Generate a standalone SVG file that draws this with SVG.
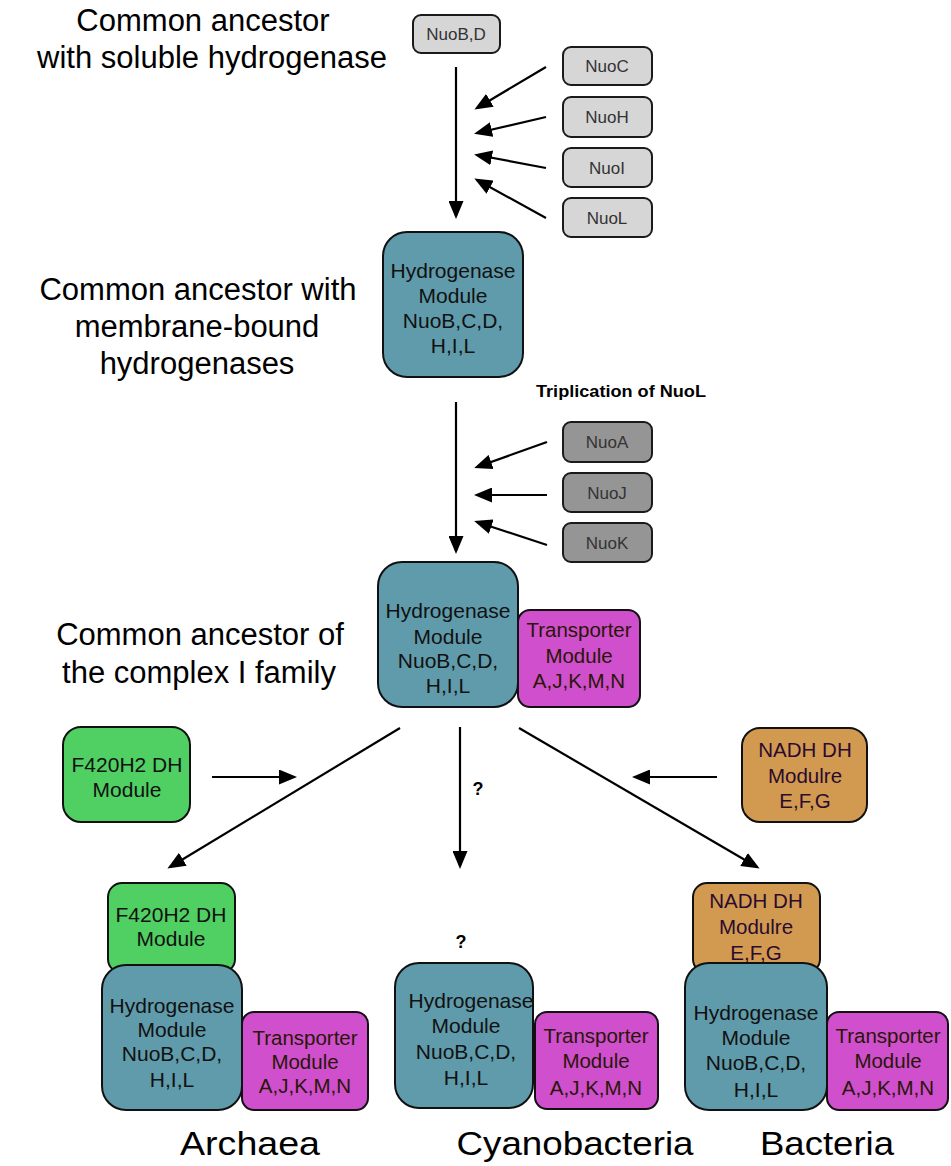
<svg xmlns="http://www.w3.org/2000/svg" width="951" height="1166" viewBox="0 0 951 1166">
<defs>
<marker id="ah" markerUnits="userSpaceOnUse" markerWidth="18" markerHeight="15" refX="15" refY="7.5" orient="auto">
<path d="M0,0 L18,7.5 L0,15 z" fill="#000"/>
</marker>
</defs>
<style>
text{font-family:"Liberation Sans",Arial,sans-serif;text-anchor:middle}
.title{font-size:31px;fill:#000}
.label{font-size:34px;fill:#000}
.small{font-size:17px;fill:#333}
.bt{font-size:21px;fill:#111}
.tt{font-size:20.5px;fill:#2a1608}
.nt{font-size:20.5px;fill:#2b0b2e}
.lg{fill:#d6d6d6;stroke:#1a1a1a;stroke-width:2}
.dg{fill:#959595;stroke:#1a1a1a;stroke-width:2}
.hy{fill:#5f9bab;stroke:#111;stroke-width:2}
.tr{fill:#cf4fcc;stroke:#111;stroke-width:2}
.f4{fill:#50cf63;stroke:#111;stroke-width:2}
.na{fill:#d19a50;stroke:#111;stroke-width:2}
.arr{stroke:#000;stroke-width:2.2;fill:none;marker-end:url(#ah)}
</style>

<g id="titles">
<text class="title" x="203" y="31">Common ancestor</text>
<text class="title" x="212" y="68">with soluble hydrogenase</text>
<text class="title" x="198" y="300">Common ancestor with</text>
<text class="title" x="197" y="337">membrane-bound</text>
<text class="title" x="197" y="374">hydrogenases</text>
<text class="title" x="200" y="645">Common ancestor of</text>
<text class="title" x="199" y="683">the complex I family</text>
<text x="621" y="397" style="font-size:16px;font-weight:bold" textLength="170" lengthAdjust="spacingAndGlyphs">Triplication of NuoL</text>
<text x="478" y="795" style="font-size:18px;font-weight:bold">?</text>
<text x="461" y="948" style="font-size:18px;font-weight:bold">?</text>
<text class="label" x="250" y="1155" textLength="140" lengthAdjust="spacingAndGlyphs">Archaea</text>
<text class="label" x="575" y="1155" textLength="237" lengthAdjust="spacingAndGlyphs">Cyanobacteria</text>
<text class="label" x="827" y="1155" textLength="134" lengthAdjust="spacingAndGlyphs">Bacteria</text>
</g>

<g id="connectors">
<line class="arr" x1="456" y1="67" x2="456" y2="216"/>
<line class="arr" x1="546" y1="67" x2="477" y2="108"/>
<line class="arr" x1="546" y1="117" x2="477" y2="133"/>
<line class="arr" x1="546" y1="168" x2="477" y2="155"/>
<line class="arr" x1="546" y1="218" x2="477" y2="180"/>
<line class="arr" x1="456" y1="402" x2="456" y2="551"/>
<line class="arr" x1="547" y1="442" x2="477" y2="467"/>
<line class="arr" x1="547" y1="495" x2="477" y2="495"/>
<line class="arr" x1="547" y1="545" x2="477" y2="522"/>
<line class="arr" x1="400" y1="728" x2="170" y2="867"/>
<line class="arr" x1="460" y1="727" x2="460" y2="866"/>
<line class="arr" x1="519" y1="728" x2="757" y2="867"/>
<line class="arr" x1="212" y1="777" x2="294" y2="777"/>
<line class="arr" x1="717" y1="777" x2="635" y2="777"/>
</g>

<g id="nuoBD"><rect class="lg" x="413" y="15" width="87" height="38" rx="8"/><text class="small" x="456" y="40">NuoB,D</text></g>
<g id="nuoC"><rect class="lg" x="563" y="47" width="89" height="38" rx="8"/><text class="small" x="607" y="72">NuoC</text></g>
<g id="nuoH"><rect class="lg" x="563" y="97" width="89" height="40" rx="8"/><text class="small" x="607" y="123">NuoH</text></g>
<g id="nuoI"><rect class="lg" x="563" y="148" width="89" height="39" rx="8"/><text class="small" x="607" y="174">NuoI</text></g>
<g id="nuoL"><rect class="lg" x="563" y="198" width="89" height="39" rx="8"/><text class="small" x="607" y="224">NuoL</text></g>

<g id="hydro1"><rect class="hy" x="383" y="232" width="140" height="145" rx="24"/>
<text class="bt" x="453" y="278">Hydrogenase</text><text class="bt" x="453" y="303">Module</text><text class="bt" x="453" y="328">NuoB,C,D,</text><text class="bt" x="453" y="353">H,I,L</text></g>

<g id="nuoA"><rect class="dg" x="563" y="422" width="89" height="40" rx="8"/><text class="small" x="607" y="448">NuoA</text></g>
<g id="nuoJ"><rect class="dg" x="563" y="473" width="89" height="39" rx="8"/><text class="small" x="607" y="499">NuoJ</text></g>
<g id="nuoK"><rect class="dg" x="563" y="523" width="89" height="39" rx="8"/><text class="small" x="607" y="549">NuoK</text></g>

<g id="hydro2"><rect class="hy" x="378" y="562" width="140" height="145" rx="24"/>
<text class="bt" x="448" y="618">Hydrogenase</text><text class="bt" x="448" y="644">Module</text><text class="bt" x="448" y="668">NuoB,C,D,</text><text class="bt" x="448" y="693">H,I,L</text></g>
<g id="trans2"><rect class="tr" x="518" y="610" width="122" height="97" rx="12"/>
<text class="tt" x="579" y="637">Transporter</text><text class="tt" x="579" y="663">Module</text><text class="tt" x="579" y="688">A,J,K,M,N</text></g>

<g id="f420"><rect class="f4" x="63" y="727" width="127" height="95" rx="18"/>
<text class="bt" x="127" y="772">F420H2 DH</text><text class="bt" x="127" y="797">Module</text></g>
<g id="nadh"><rect class="na" x="742" y="728" width="125" height="94" rx="18"/>
<text class="nt" x="805" y="757">NADH DH</text><text class="nt" x="805" y="783">Modulre</text><text class="nt" x="805" y="808">E,F,G</text></g>

<g id="archaea">
<rect class="f4" x="108" y="883" width="127" height="90" rx="14"/>
<text class="bt" x="171" y="922">F420H2 DH</text><text class="bt" x="171" y="946">Module</text>
<rect class="hy" x="102" y="965" width="140" height="145" rx="24"/>
<text class="bt" x="172" y="1013">Hydrogenase</text><text class="bt" x="172" y="1037">Module</text><text class="bt" x="172" y="1061">NuoB,C,D,</text><text class="bt" x="172" y="1087">H,I,L</text>
<rect class="tr" x="242" y="1012" width="126" height="98" rx="12"/>
<text class="tt" x="305" y="1045">Transporter</text><text class="tt" x="305" y="1069">Module</text><text class="tt" x="305" y="1093">A,J,K,M,N</text>
</g>

<g id="cyano">
<rect class="hy" x="395" y="963" width="138" height="145" rx="24"/>
<text class="bt" x="471" y="1008">Hydrogenase</text><text class="bt" x="466" y="1033">Module</text><text class="bt" x="466" y="1059">NuoB,C,D,</text><text class="bt" x="466" y="1085">H,I,L</text>
<rect class="tr" x="535" y="1012" width="123" height="97" rx="12"/>
<text class="tt" x="596" y="1043">Transporter</text><text class="tt" x="596" y="1068">Module</text><text class="tt" x="596" y="1095">A,J,K,M,N</text>
</g>

<g id="bacteria">
<rect class="na" x="693" y="883" width="127" height="90" rx="14"/>
<text class="nt" x="756" y="908">NADH DH</text><text class="nt" x="756" y="934">Modulre</text><text class="nt" x="756" y="960">E,F,G</text>
<rect class="hy" x="685" y="963" width="142" height="147" rx="24"/>
<text class="bt" x="756" y="1020">Hydrogenase</text><text class="bt" x="756" y="1045">Module</text><text class="bt" x="756" y="1070">NuoB,C,D,</text><text class="bt" x="756" y="1097">H,I,L</text>
<rect class="tr" x="827" y="1012" width="121" height="98" rx="12"/>
<text class="tt" x="888" y="1043">Transporter</text><text class="tt" x="888" y="1068">Module</text><text class="tt" x="888" y="1095">A,J,K,M,N</text>
</g>
</svg>
